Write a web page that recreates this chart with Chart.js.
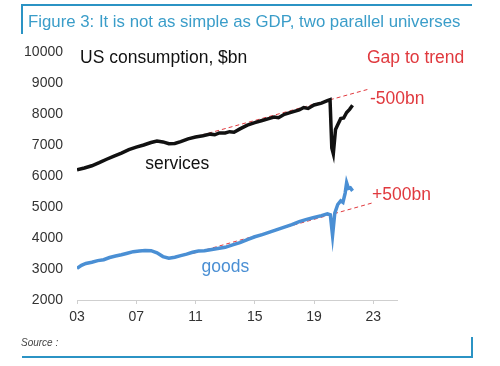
<!DOCTYPE html>
<html>
<head>
<meta charset="utf-8">
<script src="https://cdn.jsdelivr.net/npm/chart.js@4.4.1/dist/chart.umd.min.js"></script>
<style>
  html, body { margin:0; padding:0; background:#fff; }
  #wrap { position:relative; width:500px; height:366px; }
</style>
</head>
<body>
<div id="wrap"><canvas id="chart" width="500" height="366"></canvas></div>
<script>
// ============ DATA ============
const xTickYears = [2003, 2007, 2011, 2015, 2019, 2023];
const yTicks = [2000, 3000, 4000, 5000, 6000, 7000, 8000, 9000, 10000];

const servicesYears = [2003.0,2003.5,2004.0,2004.5,2005.0,2005.5,2006.0,2006.5,2007.0,2007.5,2008.0,2008.4,2008.8,2009.2,2009.6,2010.0,2010.5,2011.0,2011.5,2012.0,2012.3,2012.6,2013.0,2013.3,2013.6,2014.0,2014.5,2015.0,2015.5,2016.0,2016.3,2016.6,2017.0,2017.5,2018.0,2018.3,2018.6,2019.0,2019.5,2019.9,2020.08,2020.2,2020.3,2020.45,2020.6,2020.8,2021.0,2021.2,2021.4,2021.6];
const servicesValues = [6200,6260,6330,6430,6540,6640,6740,6850,6930,7000,7080,7130,7100,7040,7050,7110,7200,7260,7300,7350,7330,7390,7390,7430,7410,7520,7640,7720,7790,7860,7900,7880,7990,8060,8130,8210,8180,8290,8350,8430,8460,6900,6720,7500,7650,7850,7870,8050,8150,8280];

const goodsYears = [2003.0,2003.3,2003.6,2004.0,2004.4,2004.8,2005.2,2005.6,2006.0,2006.4,2006.8,2007.2,2007.6,2008.0,2008.4,2008.8,2009.2,2009.6,2010.0,2010.4,2010.8,2011.2,2011.6,2012.0,2012.5,2013.0,2013.5,2014.0,2014.5,2015.0,2015.5,2016.0,2016.5,2017.0,2017.5,2018.0,2018.5,2019.0,2019.5,2019.9,2020.1,2020.25,2020.4,2020.6,2020.8,2020.95,2021.1,2021.2,2021.32,2021.45,2021.6];
const goodsValues = [3020,3120,3180,3220,3270,3300,3370,3420,3460,3510,3560,3580,3600,3590,3520,3400,3350,3380,3430,3480,3540,3580,3590,3620,3660,3700,3780,3850,3950,4040,4110,4190,4270,4350,4430,4530,4600,4660,4720,4780,4750,4080,4800,5080,5200,5150,5450,5780,5600,5620,5520];

const servicesTrendYears = [2010.5, 2022.6];
const servicesTrendValues = [7200, 8790];
const goodsTrendYears = [2010.8, 2023.0];
const goodsTrendValues = [3500, 5140];

const toPoints = (xs, ys) => xs.map((x, i) => ({ x, y: ys[i] }));

// ============ STYLE ============
const FONT = '"Liberation Sans", Arial, Helvetica, sans-serif';
const RED = '#e0393e';
const BLUE = '#4a8fd4';
const FRAME = '#2b93c4';

// frame, title and annotation texts
const decorPlugin = {
  id: 'decor',
  afterDraw(chart) {
    const ctx = chart.ctx;
    const xs = chart.scales.x, ys = chart.scales.y;
    ctx.save();
    // frame
    ctx.strokeStyle = FRAME;
    ctx.lineWidth = 2;
    ctx.beginPath();
    ctx.moveTo(22, 34); ctx.lineTo(22, 5); ctx.lineTo(472, 5);
    ctx.moveTo(22, 357); ctx.lineTo(472, 357); ctx.lineTo(472, 337);
    ctx.stroke();
    // title
    ctx.fillStyle = '#3a9dc9';
    ctx.textBaseline = 'alphabetic';
    ctx.textAlign = 'left';
    let size = 17;
    const title = 'Figure 3: It is not as simple as GDP, two parallel universes';
    ctx.font = size + 'px ' + FONT;
    const w = ctx.measureText(title).width;
    size = size * 433 / w;
    ctx.font = size.toFixed(2) + 'px ' + FONT;
    ctx.fillText(title, 28, 27);
    // source
    ctx.fillStyle = '#444';
    ctx.font = 'italic 10px ' + FONT;
    ctx.fillText('Source :', 21, 346);
    // annotations
    ctx.textBaseline = 'middle';
    ctx.font = '17.5px ' + FONT;
    ctx.fillStyle = '#111';
    ctx.fillText('US consumption, $bn', 80, 58);
    ctx.fillText('services', xs.getPixelForValue(2007.6), ys.getPixelForValue(6380));
    ctx.fillStyle = BLUE;
    ctx.fillText('goods', xs.getPixelForValue(2011.4), ys.getPixelForValue(3060));
    ctx.fillStyle = RED;
    ctx.fillText('Gap to trend', 367, 58);
    ctx.fillText('-500bn', 370, 99);
    ctx.fillText('+500bn', 372, 195);
    ctx.restore();
  }
};

new Chart(document.getElementById('chart'), {
  type: 'line',
  data: {
    datasets: [
      { label: 'services trend', data: toPoints(servicesTrendYears, servicesTrendValues), borderColor: RED, borderWidth: 1, borderDash: [4, 3], pointRadius: 0, order: 3 },
      { label: 'goods trend', data: toPoints(goodsTrendYears, goodsTrendValues), borderColor: RED, borderWidth: 1, borderDash: [4, 3], pointRadius: 0, order: 3 },
      { label: 'services', data: toPoints(servicesYears, servicesValues), borderColor: '#111', borderWidth: 3.5, pointRadius: 0, tension: 0, order: 2 },
      { label: 'goods', data: toPoints(goodsYears, goodsValues), borderColor: BLUE, borderWidth: 3.5, pointRadius: 0, tension: 0, order: 1 }
    ]
  },
  options: {
    responsive: false,
    animation: false,
    layout: { padding: { top: 52, right: 103, left: 0, bottom: 0 } },
    plugins: { legend: { display: false }, tooltip: { enabled: false } },
    scales: {
      x: {
        type: 'linear', min: 2003, max: 2024.6,
        afterBuildTicks: s => { s.ticks = xTickYears.map(v => ({ value: v })); },
        afterFit: s => { s.height = 66; },
        ticks: { color: '#333', font: { family: FONT, size: 14 }, padding: 5, maxRotation: 0,
          callback: v => String(v).slice(2) },
        grid: { drawOnChartArea: false, drawTicks: true, tickLength: 4, color: '#cfcfcf' },
        border: { color: '#cfcfcf', width: 1 }
      },
      y: {
        min: 2000, max: 10000,
        afterBuildTicks: s => { s.ticks = yTicks.map(v => ({ value: v })); },
        afterFit: s => { s.width = 77; },
        ticks: { color: '#333', font: { family: FONT, size: 14 }, padding: 14,
          callback: v => String(v) },
        grid: { display: false, drawTicks: false },
        border: { display: false }
      }
    }
  },
  plugins: [decorPlugin]
});
</script>
</body>
</html>
